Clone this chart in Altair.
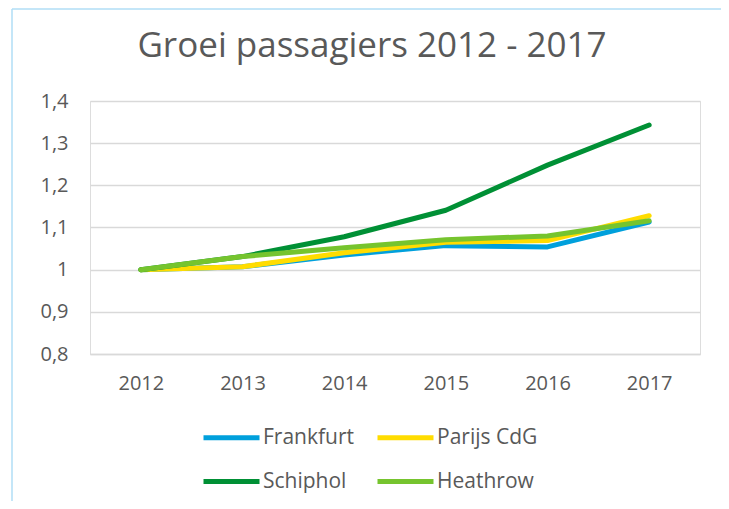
import altair as alt
import pandas as pd

years = ["2012", "2013", "2014", "2015", "2016", "2017"]
frankfurt = [1.0, 1.007, 1.035, 1.057, 1.054, 1.113]
parijs = [1.0, 1.007, 1.040, 1.065, 1.069, 1.128]
schiphol = [1.0, 1.031, 1.078, 1.141, 1.248, 1.343]
heathrow = [1.0, 1.031, 1.052, 1.071, 1.080, 1.116]

series_names = ["Frankfurt", "Parijs CdG", "Schiphol", "Heathrow"]
series_vals = [frankfurt, parijs, schiphol, heathrow]
colors = ["#00a0dc", "#ffdc00", "#009035", "#76c42e"]
y_ticks = [0.8, 0.9, 1.0, 1.1, 1.2, 1.3, 1.4]
title_text = ["Groei passagiers 2012 - 2017"]

rows = []
for name, vals in zip(series_names, series_vals):
    for yr, v in zip(years, vals):
        rows.append({"jaar": yr, "luchthaven": name, "groei": v})
df = pd.DataFrame(rows)

FONT = "Open Sans"
GREY = "#595959"

lines = alt.Chart(df).mark_line(strokeWidth=5, strokeCap="round", strokeJoin="round").encode(
    x=alt.X("jaar:O", sort=years, scale=alt.Scale(padding=0.5),
            axis=alt.Axis(title=None, labelAngle=0, ticks=False, domain=True,
                          domainColor="#d9d9d9", domainWidth=1.5, labelPadding=19,
                          labelFontSize=20, labelColor=GREY, labelFont=FONT)),
    y=alt.Y("groei:Q", scale=alt.Scale(domain=[0.8, 1.4], nice=False, zero=False),
            axis=alt.Axis(title=None, values=y_ticks, ticks=False, domain=False,
                          grid=True, gridColor="#d9d9d9", gridWidth=1.5,
                          labelPadding=22, labelFontSize=20, labelColor=GREY, labelFont=FONT,
                          labelExpr="replace(format(datum.value, '.1~f'), '.', ',')")),
    color=alt.Color("luchthaven:N", sort=series_names,
                    scale=alt.Scale(domain=series_names, range=colors),
                    legend=alt.Legend(title=None, orient="none", legendX=111, legendY=306,
                                      direction="horizontal", columns=2,
                                      symbolType="stroke", symbolSize=3136,
                                      symbolStrokeWidth=5, labelFontSize=21, labelColor=GREY,
                                      labelFont=FONT, labelOffset=1, columnPadding=12,
                                      rowPadding=3)),
    order=alt.Order("jaar:O"),
)

title = alt.Chart(pd.DataFrame({"t": title_text})).mark_text(
    font=FONT, fontSize=35, color=GREY, align="center", baseline="alphabetic"
).encode(text="t:N", x=alt.value(282), y=alt.value(-44))

frame_top = alt.Chart(pd.DataFrame({"t": title_text})).mark_rule(color="#b0def6", strokeWidth=1.5).encode(
    x=alt.value(-78), x2=alt.value(640), y=alt.value(-92), y2=alt.value(-92))
frame_left = alt.Chart(pd.DataFrame({"t": title_text})).mark_rule(color="#b0def6", strokeWidth=1.5).encode(
    x=alt.value(-78), x2=alt.value(-78), y=alt.value(-92), y2=alt.value(420))

chart = alt.layer(frame_top, frame_left, title, lines).properties(
    width=610, height=253,
    autosize=alt.AutoSizeParams(type="none"),
    padding={"left": 82, "top": 93, "right": 21, "bottom": 147},
).configure_view(stroke=None).configure(background="white")

chart.save("out.html", embed_options={"renderer": "svg", "actions": False})
